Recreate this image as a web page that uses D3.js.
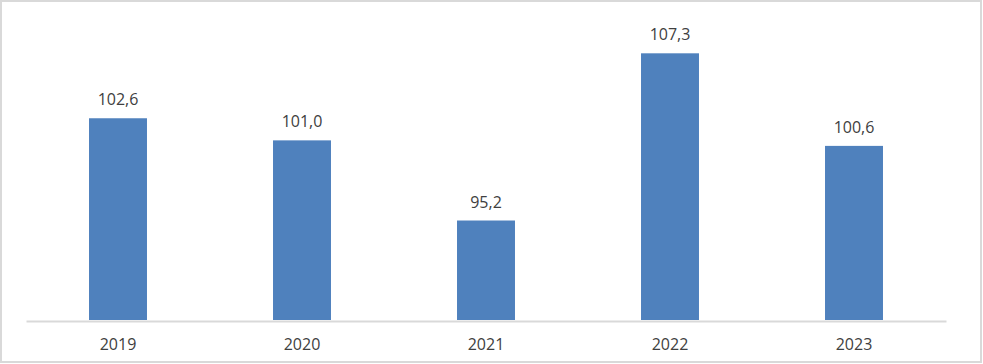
<!DOCTYPE html>
<html>
<head>
<meta charset="utf-8">
<script src="https://cdn.jsdelivr.net/npm/d3@7"></script>
<style>
  body { margin: 0; background: #fff; }
  text { font-family: "Open Sans", "Liberation Sans", sans-serif; fill: #404040; }
</style>
</head>
<body>
<div id="chart"></div>
<script>
const years = ["2019", "2020", "2021", "2022", "2023"]
const values = [102.6, 101.0, 95.2, 107.3, 100.6]
const yDomain = [88, 110]

function createCanvas(){
    return { width: 983, height: 364, left: 26, right: 946, base: 320, top: 16 }
}

function addSvg(id, canvas){
    return d3.select(id).append("svg")
      .attr("width", canvas.width).attr("height", canvas.height)
}

const canvas = createCanvas()
const svg = addSvg("#chart", canvas)

// outer frame
svg.append("rect").attr("x", 1).attr("y", 1)
  .attr("width", canvas.width - 3).attr("height", canvas.height - 3)
  .attr("fill", "#fff").attr("stroke", "#d9d9d9").attr("stroke-width", 2)

const x = d3.scaleBand().domain(years).range([canvas.left, canvas.right])
  .paddingInner(0.685).paddingOuter(0.3425)
const y = d3.scaleLinear().domain(yDomain).range([canvas.base, canvas.top])

const data = years.map((yr, i) => ({ year: yr, value: values[i] }))

svg.selectAll(".bar").data(data).enter()
  .append("rect").attr("class", "bar")
  .attr("x", d => x(d.year)).attr("width", x.bandwidth())
  .attr("y", d => y(d.value)).attr("height", d => y(yDomain[0]) - y(d.value))
  .attr("fill", "#4f81bd")

svg.selectAll(".val").data(data).enter()
  .append("text").attr("class", "val")
  .attr("x", d => x(d.year) + x.bandwidth() / 2)
  .attr("y", d => y(d.value) - 13)
  .attr("text-anchor", "middle").attr("font-size", "16px")
  .text(d => d3.format(".1f")(d.value).replace(".", ","))

// category axis
const axis = svg.append("g").attr("transform", `translate(0,${canvas.base + 1})`)
  .call(d3.axisBottom(x).tickSize(0).tickPadding(18))
axis.select(".domain").attr("stroke", "#d9d9d9").attr("stroke-width", 2)
axis.selectAll("text").attr("font-size", "16px").attr("fill", "#404040")
  .attr("font-family", "'Open Sans', 'Liberation Sans', sans-serif")
</script>
</body>
</html>
